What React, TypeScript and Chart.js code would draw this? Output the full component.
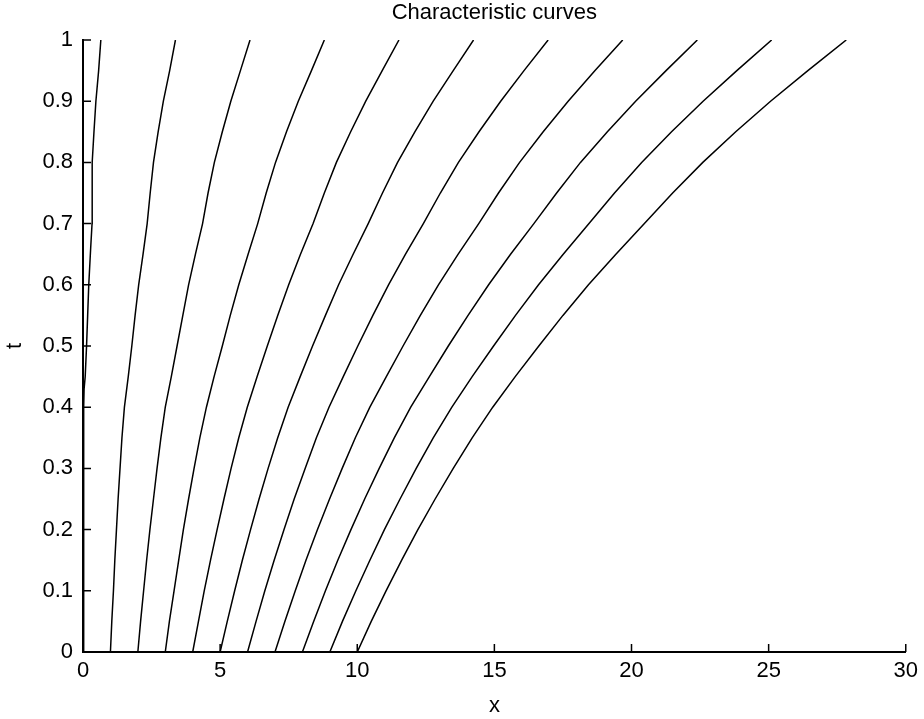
import React, { useEffect, useRef } from "react";
import { Chart, registerables } from "chart.js";

Chart.register(...registerables);

const chartTitle = "Characteristic curves";
const xAxisLabel = "x";
const yAxisLabel = "t";
const xTicks = [0, 5, 10, 15, 20, 25, 30];
const yTicks = [0, 0.1, 0.2, 0.3, 0.4, 0.5, 0.6, 0.7, 0.8, 0.9, 1];

// starting positions x0 of each characteristic curve (at t = 0)
const startPositions = [0, 1, 2, 3, 4, 5, 6, 7, 8, 9, 10];

// the curve that starts at x0 = 0 (read at its own t samples)
const curve0T = [0, 0.25, 0.4, 0.43, 0.45, 0.5, 0.55, 0.6, 0.66, 0.7, 0.75, 0.8, 0.85, 0.9, 0.95, 1];
const curve0X = [0, 0.02, 0.03, 0.04, 0.08, 0.13, 0.17, 0.21, 0.28, 0.33, 0.33, 0.34, 0.4, 0.47, 0.57, 0.65];

// t samples for the other curves
const tSamples = [0, 0.05, 0.1, 0.15, 0.2, 0.25, 0.3, 0.35, 0.4, 0.45, 0.5, 0.55, 0.6, 0.65, 0.7, 0.75, 0.8, 0.85, 0.9, 0.95, 1];
const curve1 = [1.0, 1.05, 1.11, 1.16, 1.22, 1.28, 1.35, 1.42, 1.51, 1.65, 1.78, 1.9, 2.03, 2.19, 2.34, 2.45, 2.57, 2.74, 2.93, 3.16, 3.37];
const curve2 = [2.0, 2.1, 2.21, 2.32, 2.44, 2.57, 2.7, 2.84, 3.0, 3.22, 3.43, 3.64, 3.85, 4.1, 4.36, 4.56, 4.79, 5.08, 5.39, 5.74, 6.09];
const curve3 = [3.0, 3.15, 3.32, 3.49, 3.66, 3.85, 4.05, 4.26, 4.5, 4.78, 5.08, 5.37, 5.68, 6.02, 6.37, 6.68, 7.02, 7.42, 7.85, 8.33, 8.8];
const curve4 = [4.0, 4.21, 4.42, 4.65, 4.89, 5.14, 5.4, 5.68, 5.99, 6.35, 6.72, 7.1, 7.5, 7.93, 8.39, 8.8, 9.24, 9.76, 10.31, 10.91, 11.52];
const curve5 = [5.0, 5.26, 5.53, 5.81, 6.11, 6.42, 6.75, 7.1, 7.48, 7.92, 8.37, 8.84, 9.32, 9.85, 10.4, 10.92, 11.47, 12.1, 12.77, 13.5, 14.24];
const curve6 = [6.0, 6.31, 6.63, 6.97, 7.33, 7.7, 8.1, 8.51, 8.97, 9.49, 10.02, 10.57, 11.14, 11.76, 12.41, 13.03, 13.69, 14.44, 15.23, 16.08, 16.96];
const curve7 = [7.0, 7.36, 7.74, 8.13, 8.55, 8.99, 9.45, 9.93, 10.46, 11.06, 11.67, 12.3, 12.96, 13.68, 14.43, 15.15, 15.92, 16.78, 17.69, 18.67, 19.68];
const curve8 = [8.0, 8.41, 8.84, 9.29, 9.77, 10.27, 10.8, 11.35, 11.95, 12.63, 13.32, 14.04, 14.79, 15.59, 16.44, 17.27, 18.14, 19.12, 20.15, 21.26, 22.4];
const curve9 = [9.0, 9.46, 9.95, 10.46, 10.99, 11.56, 12.15, 12.77, 13.45, 14.19, 14.97, 15.77, 16.61, 17.51, 18.45, 19.38, 20.37, 21.46, 22.61, 23.84, 25.11];
const curve10 = [10.0, 10.51, 11.05, 11.62, 12.21, 12.84, 13.5, 14.19, 14.94, 15.76, 16.62, 17.5, 18.43, 19.43, 20.47, 21.5, 22.6, 23.8, 25.07, 26.43, 27.83];

const otherCurves = [curve1, curve2, curve3, curve4, curve5, curve6, curve7, curve8, curve9, curve10];

const FONT = '"Liberation Sans", Arial, Helvetica, sans-serif';
const FONT_SIZE = 22;

export default function App() {
  const canvasRef = useRef<HTMLCanvasElement | null>(null);

  useEffect(() => {
    const canvas = canvasRef.current;
    if (!canvas) return;

    const datasets: any[] = [];
    datasets.push({
      label: "x0 = " + startPositions[0],
      data: curve0T.map((t, i) => ({ x: curve0X[i], y: t })),
    });
    otherCurves.forEach((xs, k) => {
      datasets.push({
        label: "x0 = " + startPositions[k + 1],
        data: tSamples.map((t, i) => ({ x: xs[i], y: t })),
      });
    });
    datasets.forEach((d) => {
      d.showLine = true;
      d.borderColor = "#000";
      d.borderWidth = 1.5;
      d.pointRadius = 0;
      d.fill = false;
      d.tension = 0;
    });

    const inwardTicks = {
      id: "inwardTicks",
      afterDatasetsDraw(chart: any) {
        const { ctx, chartArea, scales } = chart;
        ctx.save();
        ctx.strokeStyle = "#000";
        ctx.lineWidth = 1.5;
        ctx.beginPath();
        xTicks.forEach((v) => {
          const px = scales.x.getPixelForValue(v);
          ctx.moveTo(px, chartArea.bottom);
          ctx.lineTo(px, chartArea.bottom - 8);
        });
        yTicks.forEach((v) => {
          const py = scales.y.getPixelForValue(v);
          ctx.moveTo(chartArea.left, py);
          ctx.lineTo(chartArea.left + 8, py);
        });
        ctx.stroke();
        ctx.fillStyle = "#000";
        ctx.font = FONT_SIZE + "px " + FONT;
        ctx.textAlign = "center";
        ctx.textBaseline = "middle";
        ctx.fillText(chartTitle, (chartArea.left + chartArea.right) / 2, 13);
        ctx.restore();
      },
    };

    const chart = new Chart(canvas, {
      type: "scatter",
      data: { datasets },
      plugins: [inwardTicks],
      options: {
        animation: false,
        responsive: false,
        maintainAspectRatio: false,
        layout: { padding: { left: 0, right: 14, top: 40, bottom: 0 } },
        plugins: {
          legend: { display: false },
          tooltip: { enabled: false },
          title: { display: false },
        },
        scales: {
          x: {
            type: "linear",
            min: 0,
            max: 30,
            afterBuildTicks: (s: any) => {
              s.ticks = xTicks.map((v) => ({ value: v }));
            },
            afterFit: (s: any) => {
              s.height = 67;
            },
            grid: { display: false, drawTicks: false },
            border: { display: true, color: "#000", width: 2 },
            ticks: {
              color: "#000",
              padding: 6,
              maxRotation: 0,
              font: { family: FONT, size: FONT_SIZE },
              callback: (v: any) => String(v),
            },
            title: {
              display: true,
              text: xAxisLabel,
              color: "#000",
              font: { family: FONT, size: FONT_SIZE },
              padding: { top: 0, bottom: 0 },
            },
          },
          y: {
            type: "linear",
            min: 0,
            max: 1,
            afterBuildTicks: (s: any) => {
              s.ticks = yTicks.map((v) => ({ value: v }));
            },
            afterFit: (s: any) => {
              s.width = 83;
            },
            grid: { display: false, drawTicks: false },
            border: { display: true, color: "#000", width: 2 },
            ticks: {
              color: "#000",
              padding: 10,
              font: { family: FONT, size: FONT_SIZE },
              callback: (v: any) => String(Number(Number(v).toFixed(1))),
            },
            title: {
              display: true,
              text: yAxisLabel,
              color: "#000",
              font: { family: FONT, size: FONT_SIZE },
              padding: { top: 2, bottom: 0 },
            },
          },
        },
      },
    });

    return () => {
      chart.destroy();
    };
  }, []);

  return (
    <div style={{ position: "fixed", left: 0, top: 0, width: 924, height: 719, background: "#fff" }}>
      <canvas ref={canvasRef} width={924} height={719} style={{ display: "block" }} />
    </div>
  );
}
